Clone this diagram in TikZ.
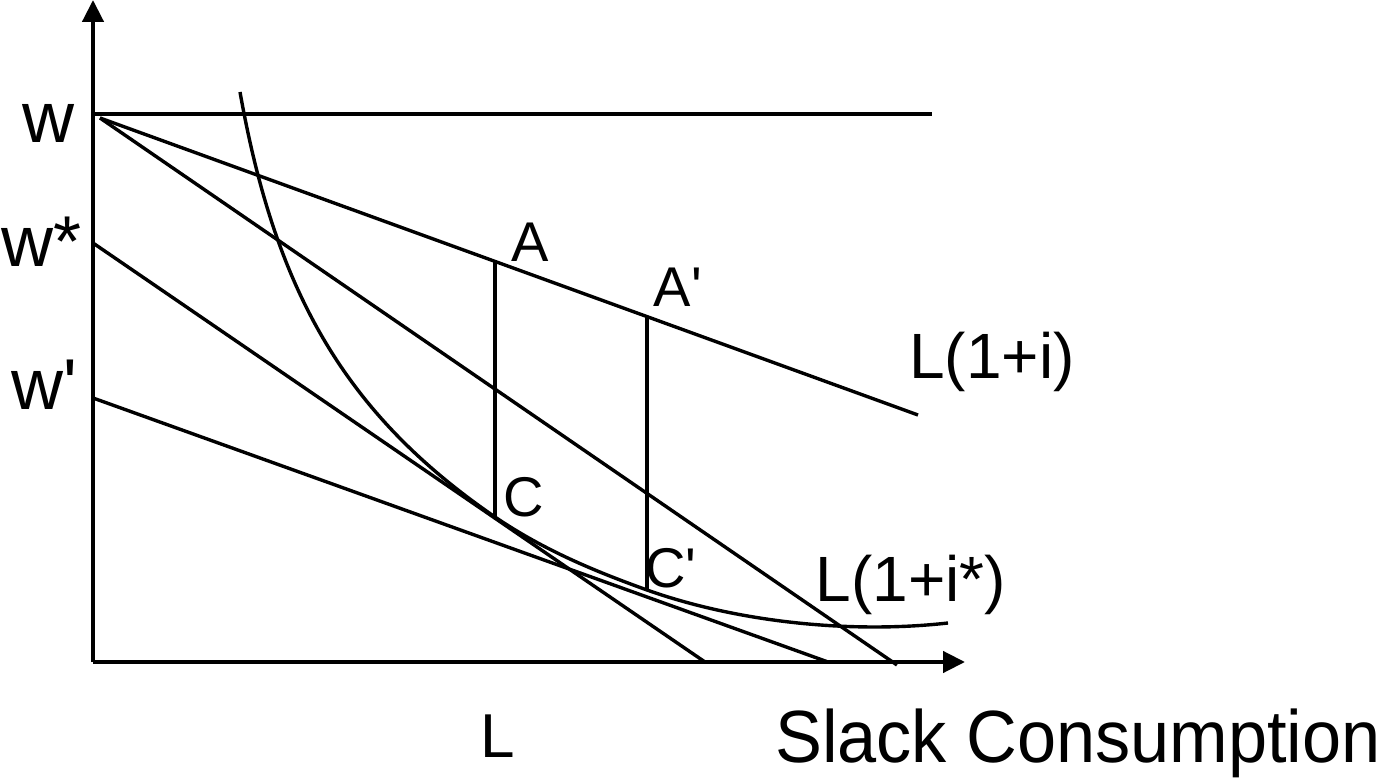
\documentclass[tikz,border=0pt]{standalone}
\usepackage{fontspec}
\setmainfont{Liberation Sans}
\usetikzlibrary{arrows.meta}
\tikzset{
  axis/.style={-{Triangle[length=11pt,width=10.5pt]},line width=2.2pt},
  thin/.style={line width=1.7pt},
  lbl/.style={anchor=base,inner sep=0pt,font=\fontsize{28}{30}\selectfont},
  wlbl/.style={anchor=base,inner sep=0pt,font=\fontsize{36}{38}\selectfont},
  biglbl/.style={anchor=base,inner sep=0pt,font=\fontsize{37}{40}\selectfont}
}
\newcommand{\pr}{\textquotesingle}
\begin{document}
\begin{tikzpicture}[x=0.5pt,y=-0.5pt]
    \useasboundingbox (0,0) rectangle (1391,779);
    % axes
    \coordinate (o) at (93,662);
    \coordinate (ytop) at (93,0);
    \coordinate (xend) at (965,662);
    \draw[axis] (o)--(ytop);
    \draw[axis] (o)--(xend);
    % budget lines
    \coordinate (w) at (93,114);
    \coordinate (wend) at (932,114);
    \coordinate (s) at (100,118);
    \coordinate (li) at (918,415);
    \coordinate (lb) at (897,665);
    \coordinate (ws) at (93,243);
    \coordinate (wsend) at (705,662);
    \coordinate (wp) at (93,398);
    \coordinate (wpend) at (828,662);
    \draw[thin] (w)--(wend);
    \draw[thin] (s)--(li);
    \draw[thin] (s)--(lb);
    \draw[thin] (ws)--(wsend);
    \draw[thin] (wp)--(wpend);
    % verticals
    \coordinate (a) at (495,261);
    \coordinate (c) at (495,517);
    \coordinate (ap) at (647,316);
    \coordinate (cp) at (647,590);
    \draw[thin] (a)--(c);
    \draw[thin] (ap)--(cp);
    % indifference curve
    \coordinate (ic) at (240,92);
    \coordinate (icend) at (948,623);
    \draw[thin] (ic) .. controls (275.6,292) and (345,414) .. (c)
      .. controls (545,551) and (597,572) .. (cp)
      .. controls (737,622) and (850,634) .. (icend);
    % labels
    \node[wlbl] (tw) at (48,143) {w};
    \node[wlbl] (tws) at (42,267) {w*};
    \node[wlbl] (twp) at (44,410) {w\pr};
    \node[lbl] (ta) at (530,262) {A};
    \node[lbl] (tap) at (678,307) {A\pr};
    \node[lbl] (tc) at (524,517) {C};
    \node[lbl] (tcp) at (671,588) {C\pr};
    \node[lbl,font=\fontsize{32}{34}\selectfont] (tli) at (992,379) {L(1+i)};
    \node[lbl,font=\fontsize{32}{34}\selectfont] (tlis) at (911,602) {L(1+i*)};
    \node[lbl,font=\fontsize{31}{33}\selectfont] (tl) at (498,757) {L};
    \node[biglbl,xscale=0.95] (tsc) at (1078,762) {Slack Consumption};
\end{tikzpicture}
\end{document}
